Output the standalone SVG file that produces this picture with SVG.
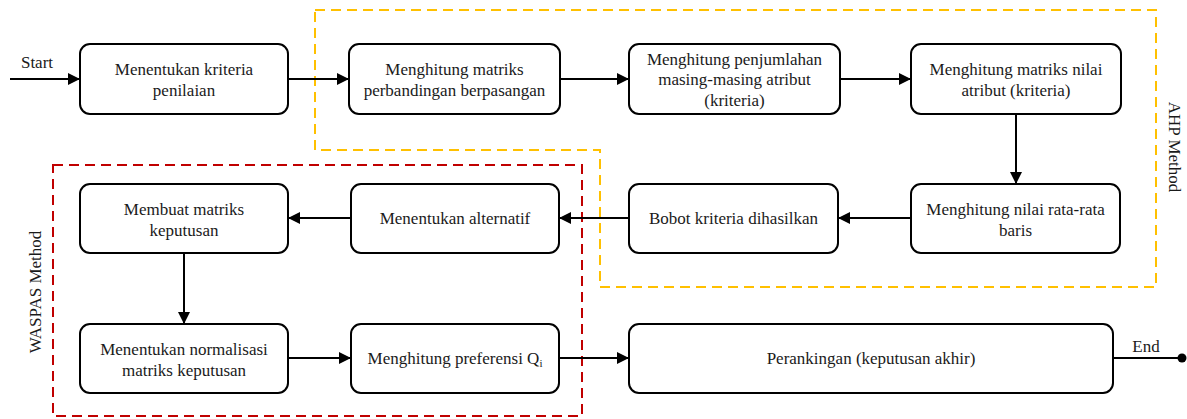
<svg xmlns="http://www.w3.org/2000/svg" width="1187" height="419" viewBox="0 0 1187 419" font-family="Liberation Serif, serif">
<defs>
<marker id="ah" viewBox="0 0 12 12" refX="12" refY="6" markerWidth="12" markerHeight="12" markerUnits="userSpaceOnUse" orient="auto">
<path d="M0,0 L12,6 L0,12 Z" fill="#000"/>
</marker>
</defs>
<style>
.box{fill:#fff;stroke:#000;stroke-width:2}
.t{font-size:17px;fill:#1a1a1a;text-anchor:middle}
.c{stroke:#000;stroke-width:2;fill:none;marker-end:url(#ah)}
.ahp{fill:none;stroke:#FFC000;stroke-width:2;stroke-dasharray:10,6}
.was{fill:none;stroke:#C00000;stroke-width:2;stroke-dasharray:10,6}
</style>
<rect width="1187" height="419" fill="#fff"/>
<g id="groups" font-family="Liberation Serif">
<path class="ahp" d="M315,10 H1156 V287 H600 V150 H315 Z"/>
<rect class="was" x="53" y="165" width="529" height="251"/>
<text class="t" transform="translate(1169,147) rotate(90)">AHP Method</text>
<text class="t" transform="translate(41,292) rotate(-90)">WASPAS Method</text>
</g>
<g id="connectors" font-family="Liberation Serif">
<line class="c" x1="10" y1="79" x2="80" y2="79"/>
<text class="t" x="37" y="68">Start</text>
<line class="c" x1="288" y1="79" x2="349" y2="79"/>
<line class="c" x1="560" y1="79" x2="629" y2="79"/>
<line class="c" x1="840" y1="79" x2="911" y2="79"/>
<line class="c" x1="1016" y1="114" x2="1016" y2="184"/>
<line class="c" x1="911" y1="218" x2="838" y2="218"/>
<line class="c" x1="629" y1="218" x2="559" y2="218"/>
<line class="c" x1="351" y1="218" x2="288" y2="218"/>
<line class="c" x1="184" y1="253" x2="184" y2="324"/>
<line class="c" x1="288" y1="358" x2="351" y2="358"/>
<line class="c" x1="559" y1="358" x2="629" y2="358"/>
<line x1="1113" y1="358" x2="1182" y2="358" stroke="#000" stroke-width="2"/>
<circle cx="1182" cy="358" r="4.5" fill="#000"/>
<text class="t" x="1146" y="352">End</text>
</g>
<g font-family="Liberation Serif">
<g id="n1"><rect class="box" x="80" y="44" width="208" height="70" rx="10"/>
<text class="t" x="184" y="75">Menentukan kriteria</text><text class="t" x="184" y="96">penilaian</text></g>
<g id="n2"><rect class="box" x="349" y="44" width="211" height="70" rx="10"/>
<text class="t" x="454.5" y="75">Menghitung matriks</text><text class="t" x="454.5" y="96">perbandingan berpasangan</text></g>
<g id="n3"><rect class="box" x="629" y="44" width="211" height="70" rx="10"/>
<text class="t" x="734.5" y="65">Menghitung penjumlahan</text><text class="t" x="734.5" y="85">masing-masing atribut</text><text class="t" x="734.5" y="106">(kriteria)</text></g>
<g id="n4"><rect class="box" x="911" y="44" width="210" height="70" rx="10"/>
<text class="t" x="1016" y="75">Menghitung matriks nilai</text><text class="t" x="1016" y="96">atribut (kriteria)</text></g>
<g id="n5"><rect class="box" x="911" y="184" width="209" height="69" rx="10"/>
<text class="t" x="1015.5" y="215">Menghitung nilai rata-rata</text><text class="t" x="1015.5" y="236">baris</text></g>
<g id="n6"><rect class="box" x="629" y="184" width="209" height="69" rx="10"/>
<text class="t" x="733.5" y="224">Bobot kriteria dihasilkan</text></g>
<g id="n7"><rect class="box" x="351" y="184" width="208" height="69" rx="10"/>
<text class="t" x="455" y="224">Menentukan alternatif</text></g>
<g id="n8"><rect class="box" x="80" y="184" width="208" height="69" rx="10"/>
<text class="t" x="184" y="215">Membuat matriks</text><text class="t" x="184" y="236">keputusan</text></g>
<g id="n9"><rect class="box" x="80" y="324" width="208" height="69" rx="10"/>
<text class="t" x="184" y="355">Menentukan normalisasi</text><text class="t" x="184" y="376">matriks keputusan</text></g>
<g id="n10"><rect class="box" x="351" y="324" width="208" height="69" rx="10"/>
<text class="t" x="455" y="364">Menghitung preferensi Q<tspan font-size="11" dy="3">i</tspan></text></g>
<g id="n11"><rect class="box" x="629" y="324" width="484" height="69" rx="10"/>
<text class="t" x="871" y="364">Perankingan (keputusan akhir)</text></g>
</g>
</svg>
